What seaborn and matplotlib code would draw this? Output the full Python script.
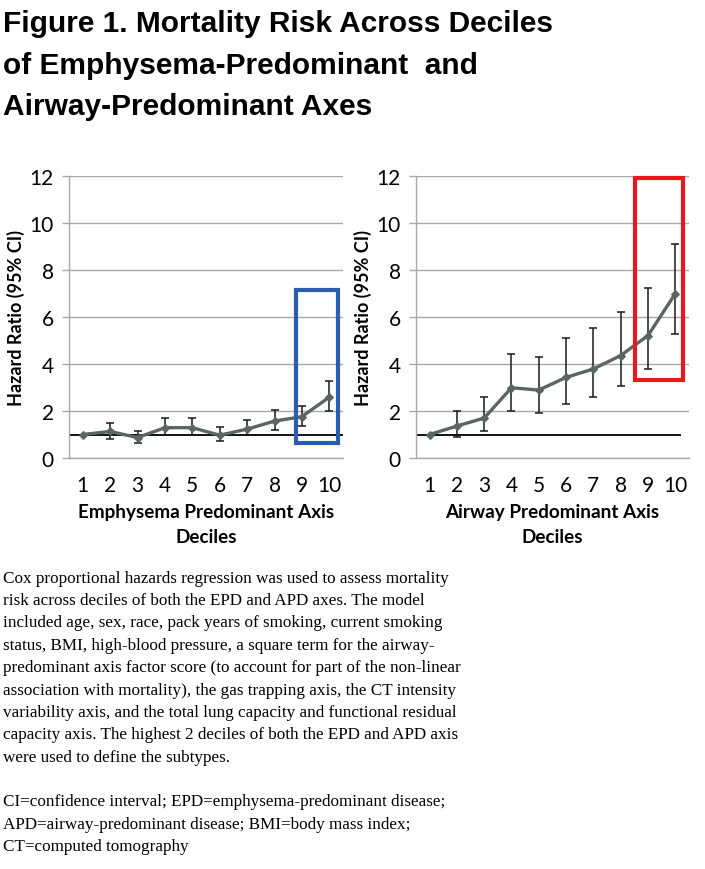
import numpy as np
import pandas as pd
import matplotlib
matplotlib.use("Agg")
import matplotlib.pyplot as plt
import seaborn as sns
from matplotlib.patches import Rectangle

# Données
deciles = list(range(1, 11))
epd_hr = [1.00, 1.13, 0.87, 1.29, 1.29, 0.97, 1.23, 1.57, 1.76, 2.59]
epd_low = [1.00, 0.83, 0.64, 0.97, 0.97, 0.73, 0.97, 1.20, 1.37, 2.00]
epd_high = [1.00, 1.47, 1.17, 1.69, 1.71, 1.33, 1.61, 2.03, 2.23, 3.27]

apd_hr = [1.00, 1.36, 1.70, 2.99, 2.89, 3.43, 3.79, 4.36, 5.21, 6.99]
apd_low = [1.00, 0.90, 1.13, 2.01, 1.93, 2.31, 2.60, 3.06, 3.79, 5.26]
apd_high = [1.00, 2.01, 2.59, 4.41, 4.30, 5.09, 5.53, 6.21, 7.23, 9.12]

y_ticks = [0, 2, 4, 6, 8, 10, 12]

title_text = ("Figure 1. Mortality Risk Across Deciles\n"
              "of Emphysema-Predominant  and\n"
              "Airway-Predominant Axes")

caption_text = (
    "Cox proportional hazards regression was used to assess mortality\n"
    "risk across deciles of both the EPD and APD axes. The model\n"
    "included age, sex, race, pack years of smoking, current smoking\n"
    "status, BMI, high-blood pressure, a square term for the airway-\n"
    "predominant axis factor score (to account for part of the non-linear\n"
    "association with mortality), the gas trapping axis, the CT intensity\n"
    "variability axis, and the total lung capacity and functional residual\n"
    "capacity axis. The highest 2 deciles of both the EPD and APD axis\n"
    "were used to define the subtypes.\n"
    "\n"
    "CI=confidence interval; EPD=emphysema-predominant disease;\n"
    "APD=airway-predominant disease; BMI=body mass index;\n"
    "CT=computed tomography"
)

sns.set_style("white")
plt.rcParams['font.family'] = ['Lato', 'DejaVu Sans']
plt.rcParams['text.color'] = 'black'
plt.rcParams['axes.labelcolor'] = 'black'

LINE_COL = '#5b6561'
GRID_COL = '#a8aaa9'


def draw_panel(ax, hr, low, high, xlabel, ref_end, box, box_col):
    df = pd.DataFrame({'decile': deciles, 'hr': hr})
    yerr = [np.array(hr) - np.array(low), np.array(high) - np.array(hr)]
    ax.errorbar(deciles, hr, yerr=yerr, fmt='none', ecolor='#1a1a1a',
                elinewidth=1.1, capsize=3, capthick=1.1, zorder=3)
    sns.lineplot(data=df, x='decile', y='hr', ax=ax, color=LINE_COL,
                 linewidth=2.4, marker='D', markersize=4.5,
                 markeredgecolor=LINE_COL, zorder=4)
    ax.hlines(1.0, 0.5, ref_end, color='black', linewidth=1.3, zorder=2)

    # Cadre de mise en évidence
    x0, x1, y0, y1 = box
    ax.add_patch(Rectangle((x0, y0), x1 - x0, y1 - y0, fill=False,
                           edgecolor=box_col, linewidth=3, zorder=5,
                           clip_on=False))

    ax.set_xlim(0.5, 10.5)
    ax.set_ylim(0, 12)
    ax.set_yticks(y_ticks)
    ax.set_xticks(deciles)
    ax.set_xticks(np.arange(0.5, 11, 1), minor=True)
    ax.tick_params(axis='x', which='major', length=0, labelsize=15, pad=12,
                   labelcolor='black')
    ax.tick_params(axis='x', which='minor', length=5, width=1, color=GRID_COL,
                   direction='out')
    ax.tick_params(axis='y', length=5, width=1, color=GRID_COL,
                   labelsize=15, pad=6, left=True, labelcolor='black')
    ax.yaxis.grid(True, color=GRID_COL, linewidth=1)
    ax.set_axisbelow(True)
    for s in ['top', 'right']:
        ax.spines[s].set_visible(False)
    for s in ['left', 'bottom']:
        ax.spines[s].set_color(GRID_COL)
        ax.spines[s].set_linewidth(1)
    ax.set_xlabel(xlabel, fontsize=13.6, fontweight='bold', labelpad=6,
                  linespacing=1.55)
    ax.set_ylabel('Hazard Ratio (95% CI)', fontsize=13, fontweight='bold',
                  labelpad=3)


fig = plt.figure(figsize=(7.05, 8.70), dpi=100)
ax1 = fig.add_axes([0.098, 0.4724, 0.3885, 0.3242])
ax2 = fig.add_axes([0.590, 0.4724, 0.3872, 0.3242])

draw_panel(ax1, epd_hr, epd_low, epd_high,
           'Emphysema Predominant Axis\nDeciles', 10.5,
           (8.78, 10.31, 0.63, 7.13), '#2b5cb0')
draw_panel(ax2, apd_hr, apd_low, apd_high,
           'Airway Predominant Axis\nDeciles', 10.2,
           (8.52, 10.28, 3.34, 11.93), '#e8191c')

fig.text(0.004, 0.988, title_text, ha='left', va='top', fontsize=21.5,
         fontweight='bold', family=['Liberation Sans', 'DejaVu Sans'],
         linespacing=1.6)

fig.text(0.004, 0.344, caption_text, ha='left', va='top', fontsize=12.3,
         family=['Liberation Serif', 'DejaVu Serif'], linespacing=1.53)

fig.savefig('out.png', dpi=100)
